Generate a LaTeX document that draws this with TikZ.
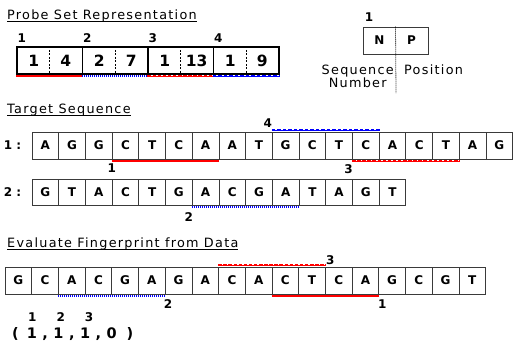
\documentclass[tikz,border=0pt]{standalone}
\usepackage{fontspec}
\setmainfont{DejaVu Sans}
\newfontfamily\spacedfont[LetterSpace=10]{DejaVu Sans}
\usepackage{xcolor}
\usepackage{tikz}
\usetikzlibrary{positioning}
\definecolor{hitred}{HTML}{FF0000}
\definecolor{hitblue}{HTML}{0000FF}
\definecolor{boxgray}{HTML}{3A3A3A}
\newcommand{\headline}[1]{\setbox0=\hbox{#1}\rlap{\rule[-2.3pt]{\wd0}{0.8pt}}\box0}

\begin{document}
\begin{tikzpicture}[
  x=1pt, y=-1pt,
  base/.style={
    draw=boxgray, line width=0.8pt, minimum width=26.7pt, minimum height=27pt,
    inner sep=0pt, font=\fontsize{12}{14}\selectfont\bfseries
  },
  probebox/.style={
    draw=black, line width=1.2pt, minimum width=65.5pt, minimum height=27pt,
    inner sep=0pt, font=\fontsize{15.5}{17}\selectfont\bfseries
  },
  keybox/.style={
    draw=boxgray, line width=0.9pt, minimum width=65pt, minimum height=27pt,
    inner sep=0pt, font=\fontsize{12}{14}\selectfont\bfseries
  },
  divider/.style={black, line width=0.8pt, dash pattern=on 2pt off 1.5pt},
  keydiv/.style={black, line width=0.8pt, dash pattern=on 1pt off 1pt},
  head/.style={inner sep=0pt, font=\fontsize{12.8}{14}\spacedfont},
  note/.style={inner sep=0pt, align=center, font=\fontsize{12.8}{11}\spacedfont},
  tag/.style={inner sep=0pt, font=\fontsize{12}{14}\selectfont\bfseries},
  rowlab/.style={inner sep=0pt, font=\fontsize{12}{14}\selectfont\bfseries},
  vec/.style={inner sep=0pt, font=\fontsize{14.5}{16}\selectfont\bfseries},
  probeone/.style={hitred, line width=2.2pt},
  probetwo/.style={hitblue, line width=2.4pt, dash pattern=on 1.2pt off 0.8pt},
  probethree/.style={hitred, line width=2.4pt, dash pattern=on 3.5pt off 1.6pt,
    preaction={draw=hitred, solid, line width=0.8pt}},
  probefour/.style={hitblue, line width=2.4pt, dash pattern=on 3.5pt off 2pt,
    preaction={draw=hitblue, solid, line width=0.8pt}},
]
\useasboundingbox (0,0) rectangle (513,348);

\node[head, anchor=base west] (probehead) at (7,19) {\headline{Probe Set Representation}};

\foreach \n/\p [count=\i] in {1/4,2/7,1/13,1/9} {
  \node[probebox] (p\i) at ({17+65.5*(\i-0.5)},60.5) {\makebox[32pt]{\n}\makebox[32pt]{\p}};
  \draw[divider] (p\i.north) -- (p\i.south);
  \node[tag, anchor=south west] (pl\i) at ([xshift=1pt,yshift=3.6pt]p\i.north west) {\i};
}
\draw[probeone] ([yshift=-1.5pt]p1.south west) -- ([yshift=-1.5pt]p1.south east);
\draw[probetwo] ([yshift=-1.5pt]p2.south west) -- ([yshift=-1.5pt]p2.south east);
\draw[probethree] ([yshift=-1.5pt]p3.south west) -- ([yshift=-1.5pt]p3.south east);
\draw[probefour] ([yshift=-1.5pt]p4.south west) -- ([yshift=-1.5pt]p4.south east);

\node[keybox] (key) at (395.5,40.5) {\makebox[32pt]{N}\makebox[32pt]{P}};
\node[tag, anchor=south west] (keylab) at ([xshift=2pt,yshift=4.6pt]key.north west) {1};
\coordinate (keyend) at (396,93);
\draw[keydiv] (key.north) -- (keyend);
\node[note, anchor=north east] (seqnum) at (394,64.5) {Sequence\\Number};
\node[note, anchor=base west] (pos) at (404,74) {Position};

\node[head, anchor=base west] (targethead) at (7,113.7) {\headline{Target Sequence}};

\node[rowlab] (lab1) at (12.5,145.5) {1 :};
\foreach \l [count=\i] in {A,G,G,C,T,C,A,A,T,G,C,T,C,A,C,T,A,G}
  \node[base] (r1-\i) at ({32+26.7*(\i-0.5)},145.5) {\l};

\node[rowlab] (lab2) at (12.5,192) {2 :};
\foreach \l [count=\i] in {G,T,A,C,T,G,A,C,G,A,T,A,G,T}
  \node[base, minimum height=26pt] (r2-\i) at ({32+26.7*(\i-0.5)},192) {\l};

\draw[probeone] ([yshift=-1.5pt]r1-4.south west) -- ([yshift=-1.5pt]r1-7.south east);
\node[tag, anchor=north] (h1a) at ([yshift=-4.6pt]r1-4.south west) {1};
\draw[probefour] ([yshift=1.5pt]r1-10.north west) -- ([yshift=1.5pt]r1-13.north east);
\node[tag, anchor=south] (h1b) at ([xshift=-4pt,yshift=3.6pt]r1-10.north west) {4};
\draw[probethree] ([yshift=-1.5pt]r1-13.south west) -- ([yshift=-1.5pt]r1-16.south east);
\node[tag, anchor=north] (h1c) at ([xshift=-3.5pt,yshift=-4.6pt]r1-13.south west) {3};

\draw[probetwo] ([yshift=-1.5pt]r2-7.south west) -- ([yshift=-1.5pt]r2-10.south east);
\node[tag, anchor=north] (h2a) at ([xshift=-3pt,yshift=-6.5pt]r2-7.south west) {2};

\node[head, anchor=base west] (evalhead) at (7,247.3) {\headline{Evaluate Fingerprint from Data}};

\foreach \l [count=\i] in {G,C,A,C,G,A,G,A,C,A,C,T,C,A,G,C,G,T}
  \node[base] (r3-\i) at ({5+26.7*(\i-0.5)},280.5) {\l};

\draw[probetwo] ([yshift=-1.5pt]r3-3.south west) -- ([yshift=-1.5pt]r3-6.south east);
\node[tag, anchor=north] (h3a) at ([xshift=2.5pt,yshift=-5pt]r3-6.south east) {2};
\draw[probethree] ([yshift=1.5pt]r3-9.north west) -- ([yshift=1.5pt]r3-12.north east);
\node[tag, anchor=south] (h3b) at ([xshift=4.5pt,yshift=1.6pt]r3-12.north east) {3};
\draw[probeone] ([yshift=-1.5pt]r3-11.south west) -- ([yshift=-1.5pt]r3-14.south east);
\node[tag, anchor=north] (h3c) at ([xshift=3pt,yshift=-5pt]r3-14.south east) {1};

\node[tag, anchor=base west] (idx) at (28,321) {1\hspace{20pt}2\hspace{20pt}3};
\node[vec, anchor=base west] (fp) at (12,338)
  {(\hspace{8pt}1\hspace{5.5pt},\hspace{5.5pt}1\hspace{5.5pt},\hspace{5.5pt}1\hspace{5.5pt},\hspace{5.5pt}0\hspace{10pt})};
\end{tikzpicture}
\end{document}
